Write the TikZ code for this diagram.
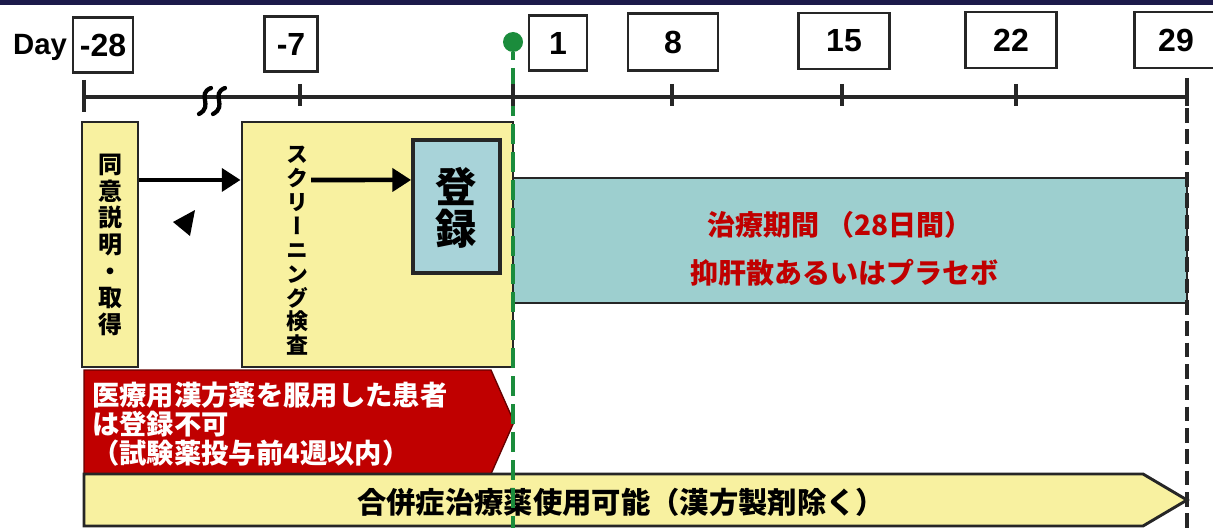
\documentclass[tikz,border=0pt]{standalone}
\usepackage{fontspec}
\setmainfont{Liberation Sans}
\newfontfamily\jp{Noto Sans CJK JP}
\newfontfamily\jpv[RawFeature=+vert]{Noto Sans CJK JP}
\usetikzlibrary{arrows.meta}
\definecolor{navyband}{HTML}{1C1A4A}
\definecolor{paleyel}{HTML}{F8F1A0}
\definecolor{bandteal}{HTML}{9DCFCF}
\definecolor{regblue}{HTML}{A8D3D9}
\definecolor{darkred}{HTML}{C00000}
\definecolor{tgreen}{HTML}{1B8C3C}
\tikzset{
  daybox/.style={draw=black!85, line width=1.8pt, fill=white, inner sep=0pt, font=\bfseries\fontsize{24}{24}\selectfont},
  ybox/.style={fill=paleyel, draw=black!85, line width=2.2pt, inner sep=0pt},
  fatarrow/.style={line width=3.4pt, -{Triangle[length=14pt,width=17pt]}},
  axisline/.style={line width=2.3pt, black!85},
  squig/.style={line width=3.2pt, line cap=round},
}
\begin{document}
\begin{tikzpicture}[x=0.75pt,y=-0.75pt]
\useasboundingbox (0,0) rectangle (1213,528);
\fill[navyband] (0,0) rectangle (1213,5);

% Day labels
\node[font=\bfseries\fontsize{22}{22}\selectfont] (day) at (40,47) {Day};
\node[daybox, minimum width=45pt, minimum height=41pt] (d28) at (103,45) {-28};
\node[daybox, minimum width=40pt, minimum height=41pt] (d7) at (291,44) {-7};
\node[daybox, minimum width=43.5pt, minimum height=41pt] (d1) at (558,43) {1};
\node[daybox, minimum width=67.5pt, minimum height=42.75pt] (d8) at (673,42) {8};
\node[daybox, minimum width=68.25pt, minimum height=42pt] (d15) at (844,41) {15};
\node[daybox, minimum width=68.25pt, minimum height=42pt] (d22) at (1011,40) {22};
\node[daybox, minimum width=62pt, minimum height=42pt] (d29) at (1176,40) {29};

% axis
\draw[axisline] (84,97) -- (1187,97);
\draw[axisline] (84,80) -- (84,112);
\foreach \x in {300,672,842,1016} \draw[axisline] (\x,84) -- (\x,106);
\draw[axisline] (1187,78) -- (1187,106);
% squiggle
\draw[squig] (211,88) .. controls (196,94) and (214,106) .. (199,114);
\draw[squig] (225,88) .. controls (210,94) and (228,106) .. (213,114);

% boxes
\node[ybox, minimum width=42pt, minimum height=183.75pt] (consent) at (110,244.5) {};
\node[font=\jpv\bfseries\fontsize{18}{20}\selectfont, align=center, inner sep=0pt] (context) at (110,245) {同\\意\\説\\明\\・\\取\\得};
\node[ybox, minimum width=203.25pt, minimum height=183.75pt] (screen) at (377.5,244.5) {};
\node[font=\jpv\bfseries\fontsize{16.5}{17.9}\selectfont, align=center, inner sep=0pt] (scrtext) at (297,251) {ス\\ク\\リ\\ー\\ニ\\ン\\グ\\検\\査};
\node[fill=regblue, draw=black!85, line width=2.8pt, minimum width=65.25pt, minimum height=99.75pt, inner sep=0pt] (reg) at (456.5,206.5) {};
\node[font=\jpv\bfseries\fontsize{31}{32}\selectfont, align=center, inner sep=0pt] (regtext) at (456,208) {登\\録};

\draw[fatarrow] ([yshift=48.4pt]consent.east) -- ([yshift=48.4pt]screen.west);
\coordinate (s2) at (311,180);
\draw[fatarrow] (s2) -- ([yshift=19.9pt]reg.west);
\fill (173,222) -- (195,210) -- (190,236) -- cycle;

% treatment band
\node[fill=bandteal, draw=black!85, line width=2.2pt, minimum width=505.5pt, minimum height=93.75pt, inner sep=0pt] (band) at (850,240.5) {};
\node[text=darkred, font=\jp\bfseries\fontsize{21}{21}\selectfont] (t1) at (840,225) {治療期間 （28日間）};
\node[text=darkred, font=\jp\bfseries\fontsize{21}{21}\selectfont] (t2) at (844,273) {抑肝散あるいはプラセボ};

% red pentagon
\filldraw[fill=darkred, draw=black!60!red, line width=1pt] (84,370) -- (491,370) -- (514,422) -- (491,474) -- (84,474) -- cycle;
\node[text=white, font=\jp\bfseries\fontsize{20.5}{21.75}\selectfont, align=left, anchor=west, inner sep=0pt] (warn) at (92,424) {医療用漢方薬を服用した患者\\は登録不可\\（試験薬投与前4週以内）};

% yellow pentagon
\filldraw[fill=paleyel, draw=black!85, line width=2.2pt] (84,474) -- (1143,474) -- (1187,500) -- (1143,526) -- (84,526) -- cycle;
\node[font=\jp\bfseries\fontsize{22}{22}\selectfont] (comb) at (621,502) {合併症治療薬使用可能（漢方製剤除く）};

% end-of-study dashed line
\coordinate (e1) at (1187,108);
\coordinate (e2) at (1187,528);
\draw[line width=2.3pt, black!85, dash pattern=on 11pt off 5pt] (e1) -- (e2);

% green start line
\node[circle, fill=tgreen, minimum size=15pt, inner sep=0pt] (gdot) at (513,42) {};
\coordinate (g1) at (513,60);
\coordinate (g2) at (513,68);
\coordinate (g3) at (513,528);
\draw[tgreen, line width=3.6pt] (gdot.south) -- (g1);
\draw[tgreen, line width=3.6pt, dash pattern=on 15pt off 6pt] (g2) -- (g3);
\draw[axisline] (513,84) -- (513,106);
\end{tikzpicture}
\end{document}
